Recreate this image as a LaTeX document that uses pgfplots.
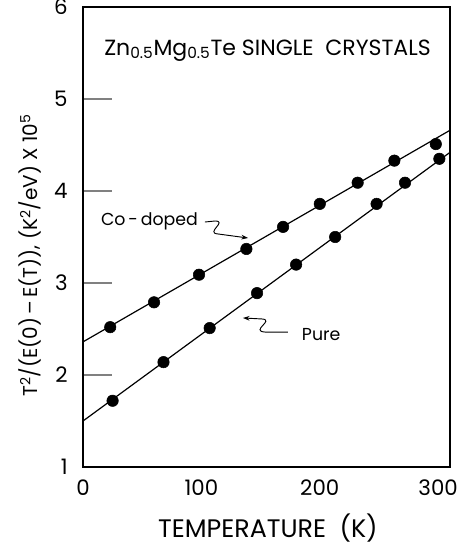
\documentclass[border=0pt]{standalone}
\usepackage{pgfplots}
\pgfplotsset{compat=1.18}
\usetikzlibrary{arrows.meta}
\usepackage{fontspec}
\setmainfont{Poppins}

\begin{document}
\begin{tikzpicture}
\begin{axis}[
  scale only axis, width=275.25pt, height=345pt,
  xmin=0, xmax=310, ymin=1, ymax=6,
  xtick={0,100,200,300}, ytick={1,2,3,4,5,6},
  xtick pos=bottom, ytick pos=left,
  tick align=inside, major tick length=22pt,
  x tick style={draw=none}, y tick style={line width=1pt},
  axis line style={line width=1.3pt},
  /pgf/number format/assume math mode=true,
  ticklabel style={font=\fontsize{16}{18}\selectfont},
  yticklabel style={xshift=-8pt},
  xticklabel style={yshift=-6pt},
  xlabel={TEMPERATURE\ \ (K)},
  xlabel style={at={(axis description cs:0.504,0)}, anchor=center, yshift=-46pt,
                font=\fontsize{19}{21}\selectfont},
  ylabel={T\textsuperscript{2}/(E(0)\,–\,E(T)), (K\textsuperscript{2}/eV) X 10\textsuperscript{5}},
  ylabel style={at={(axis description cs:0,0.46)}, anchor=center, yshift=40pt,
                font=\fontsize{15}{18}\selectfont},
  clip=false,
]
% fitted lines
\addplot[black, line width=0.9pt] coordinates {(0,2.36) (310,4.66)};
\addplot[black, line width=0.9pt] coordinates {(0,1.50) (310,4.42)};
% Co-doped
\addplot[only marks, mark=*, mark size=4.3pt, black] coordinates {
  (23,2.52) (60,2.79) (98,3.09) (138,3.37) (169,3.61)
  (200,3.86) (232,4.09) (263,4.33) (298,4.51)};
% Pure
\addplot[only marks, mark=*, mark size=4.3pt, black] coordinates {
  (25,1.72) (68,2.14) (107,2.51) (147,2.89) (180,3.20)
  (213,3.50) (248,3.86) (272,4.09) (301,4.35)};

\node[anchor=west, font=\fontsize{16.5}{18}\selectfont] at (axis cs:14,5.53)
  {Zn\textsubscript{0.5}Mg\textsubscript{0.5}Te SINGLE\ \ CRYSTALS};
\node[anchor=east, font=\fontsize{13}{15}\selectfont] at (axis cs:101,3.67) {Co\,-\,doped};
\node[anchor=west, font=\fontsize{13}{15}\selectfont] at (axis cs:181,2.44) {Pure};
\draw[line width=0.7pt, -{Stealth[length=5pt,width=3.5pt]}]
  (axis cs:103,3.663) -- (axis cs:111.5,3.674)
  .. controls (axis cs:122.5,3.674) and (axis cs:103,3.543) .. (axis cs:114,3.533)
  -- (axis cs:139.4,3.489);
\draw[line width=0.7pt, -{Stealth[length=5pt,width=3.5pt]}]
  (axis cs:173.1,2.467) -- (axis cs:153.7,2.467)
  .. controls (axis cs:141,2.478) and (axis cs:162.2,2.598) .. (axis cs:151.2,2.609)
  -- (axis cs:135.1,2.620);
\end{axis}
\pgfresetboundingbox
\path (-62.25pt,-63.75pt) rectangle (281.25pt,350.25pt);
\end{tikzpicture}
\end{document}
